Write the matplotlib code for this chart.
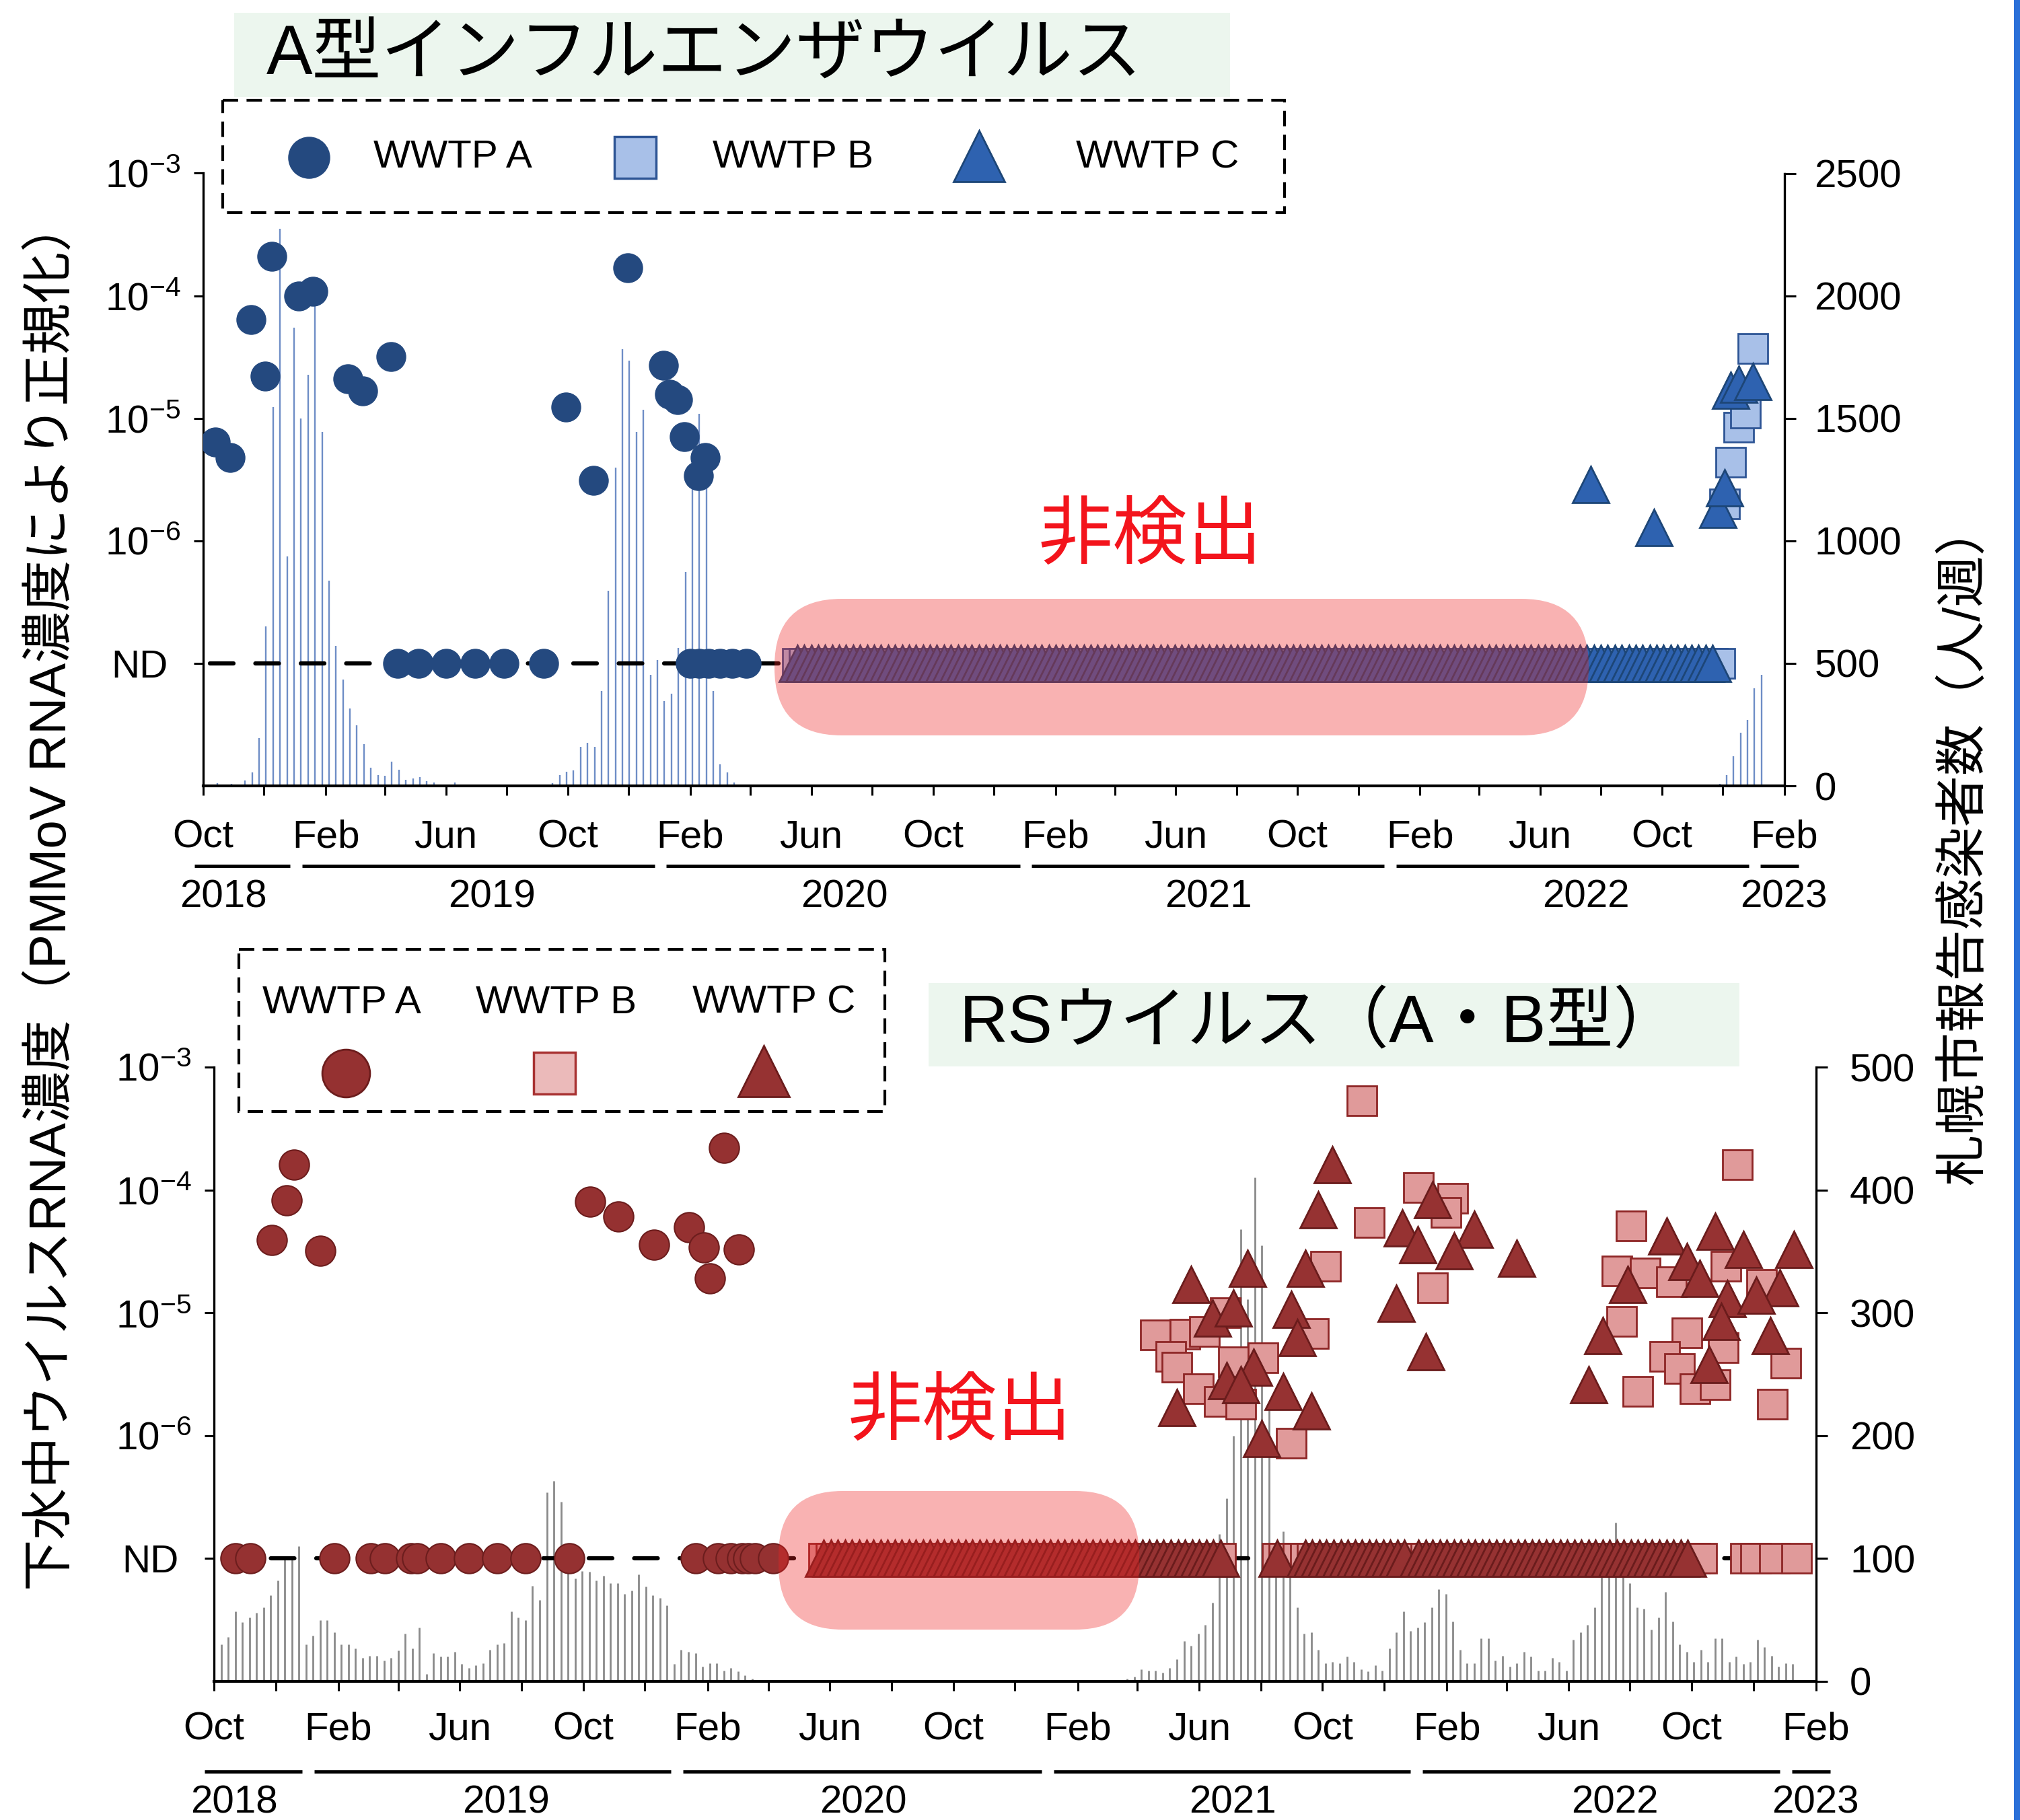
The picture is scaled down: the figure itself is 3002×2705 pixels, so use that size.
import numpy as np
import pandas as pd
import matplotlib
matplotlib.use('Agg')
import matplotlib.pyplot as plt
import matplotlib.dates as mdates
from matplotlib.patches import Rectangle, FancyBboxPatch
from matplotlib.ticker import FixedLocator, NullLocator, FixedFormatter
from matplotlib.transforms import ScaledTranslation

plt.rcParams['font.family'] = ['Liberation Sans', 'Noto Sans CJK JP', 'DejaVu Sans']
plt.rcParams['mathtext.fontset'] = 'custom'
plt.rcParams['mathtext.rm'] = 'Liberation Sans'
plt.rcParams['mathtext.it'] = 'Liberation Sans:italic'
plt.rcParams['mathtext.bf'] = 'Liberation Sans:bold'

# ---------------- DATA ----------------
# Influenza A (top panel)
TOP_A_DATES = ['2018-10-13', '2018-10-28', '2018-11-18', '2018-12-02', '2018-12-09', '2019-01-05',
               '2019-01-19', '2019-02-23', '2019-03-10', '2019-04-07', '2019-09-29', '2019-10-27',
               '2019-11-30', '2020-01-05', '2020-01-11', '2020-01-19', '2020-01-26', '2020-02-09',
               '2020-02-16']
TOP_A_VALUES = [6.4e-6, 4.8e-6, 6.4e-5, 2.2e-5, 2.1e-4, 1.0e-4, 1.09e-4, 2.1e-5, 1.67e-5, 3.2e-5,
                1.23e-5, 3.1e-6, 1.7e-4, 2.7e-5, 1.57e-5, 1.42e-5, 7.1e-6, 3.4e-6, 4.8e-6]
TOP_A_ND = ['2019-04-14', '2019-05-05', '2019-06-01', '2019-06-30', '2019-07-29', '2019-09-07',
            '2020-02-01', '2020-02-10', '2020-02-19', '2020-03-02', '2020-03-14', '2020-03-28']
TOP_B_DATES = ['2022-12-03', '2022-12-09', '2022-12-17', '2022-12-24', '2022-12-31']
TOP_B_VALUES = [2.0e-6, 4.4e-6, 8.5e-6, 1.1e-5, 3.7e-5]
TOP_C_DATES = ['2022-07-22', '2022-09-23', '2022-11-26', '2022-12-03', '2022-12-09', '2022-12-17',
               '2022-12-31']
TOP_C_VALUES = [2.9e-6, 1.28e-6, 1.8e-6, 2.7e-6, 1.7e-5, 1.9e-5, 2.0e-5]
TOP_B_ND_RANGES = [('2020-05-18', '2022-11-28')]
TOP_C_ND_RANGES = [('2020-05-18', '2022-11-21')]

# weekly reported influenza cases (right axis, top)
TOP_BAR_STARTS = ['2018-10-15', '2019-09-16', '2022-11-28']
TOP_BAR_S1 = [11, 6, 9, 6, 22, 54, 196, 652, 1546, 2273, 937, 1870, 1498, 1677, 1973, 1443, 838,
              570, 433, 315, 248, 169, 74, 43, 40, 98, 66, 24, 30, 35, 19, 14, 5, 3, 14]
TOP_BAR_S2 = [10, 44, 59, 64, 160, 175, 159, 387, 797, 1298, 1783, 1734, 1444, 1534, 452, 514,
              347, 377, 563, 872, 1223, 1519, 1225, 387, 88, 55, 14]
TOP_BAR_S3 = [8, 44, 120, 216, 268, 397, 452]

# RS virus (bottom panel)
BOT_A_DATES = ['2018-11-27', '2018-12-12', '2018-12-19', '2019-01-14', '2019-10-08', '2019-11-05',
               '2019-12-10', '2020-01-14', '2020-01-28', '2020-02-03', '2020-02-17', '2020-03-03']
BOT_A_VALUES = [3.9e-5, 8.2e-5, 1.6e-4, 3.2e-5, 8.0e-5, 6.1e-5, 3.6e-5, 5.0e-5, 3.4e-5, 1.9e-5,
                2.2e-4, 3.3e-5]
BOT_A_ND = ['2018-10-22', '2018-11-06', '2019-01-28', '2019-03-05', '2019-03-19', '2019-04-14',
            '2019-04-20', '2019-05-13', '2019-06-10', '2019-07-08', '2019-08-05', '2019-09-17',
            '2020-01-20', '2020-02-11', '2020-02-24', '2020-03-06', '2020-03-12', '2020-03-19',
            '2020-04-06']
BOT_B_DATES = ['2021-11-09', '2022-11-15', '2022-01-04', '2022-02-07', '2022-01-31', '2021-11-16',
               '2022-08-02', '2021-10-04', '2022-01-18', '2022-07-19', '2022-08-16', '2022-09-11',
               '2022-11-04', '2022-12-09', '2022-07-24', '2022-09-26', '2022-11-01', '2022-09-04',
               '2022-09-19', '2023-01-02', '2022-08-09', '2022-10-04', '2022-10-24', '2022-12-20',
               '2021-04-19', '2021-05-18', '2021-06-06', '2021-05-04', '2021-05-10', '2021-05-31',
               '2021-06-21', '2021-07-12', '2021-07-05', '2021-08-03', '2021-09-22', '2021-08-31',
               '2021-06-27']
BOT_B_VALUES = [5.3e-4, 1.6e-4, 1.05e-4, 8.5e-5, 6.6e-5, 5.4e-5, 5.1e-5, 2.4e-5, 1.6e-5, 2.2e-5,
                2.1e-5, 1.8e-5, 2.4e-5, 1.7e-5, 8.5e-6, 6.9e-6, 5.2e-6, 4.4e-6, 3.5e-6, 3.9e-6,
                2.3e-6, 2.4e-6, 2.6e-6, 1.8e-6, 6.6e-6, 6.7e-6, 7.0e-6, 4.4e-6, 3.6e-6, 2.4e-6,
                1.9e-6, 1.8e-6, 4.0e-6, 4.3e-6, 6.8e-6, 8.7e-7, 1.0e-5]
BOT_C_DATES = ['2021-10-11', '2021-09-27', '2022-01-18', '2021-12-19', '2022-01-03', '2022-02-28',
               '2022-02-08', '2022-04-11', '2021-12-13', '2022-01-11', '2022-09-06', '2022-10-24',
               '2022-11-21', '2023-01-10', '2022-09-26', '2022-10-09', '2022-07-30', '2022-12-27',
               '2022-11-05', '2022-12-04', '2022-10-30', '2022-07-05', '2022-12-18', '2022-10-18',
               '2022-06-21', '2021-05-24', '2021-07-19', '2021-09-14', '2021-06-14', '2021-07-05',
               '2021-08-31', '2021-09-06', '2021-07-25', '2021-06-28', '2021-07-12', '2021-08-23',
               '2021-05-10', '2021-09-20', '2021-08-02']
BOT_C_VALUES = [1.6e-4, 6.9e-5, 8.3e-5, 4.9e-5, 3.6e-5, 4.8e-5, 3.2e-5, 2.8e-5, 1.2e-5, 4.8e-6,
                4.2e-5, 4.6e-5, 3.3e-5, 3.3e-5, 2.6e-5, 1.9e-5, 1.7e-5, 1.6e-5, 1.3e-5, 1.4e-5,
                8.5e-6, 6.5e-6, 6.5e-6, 3.8e-6, 2.6e-6, 1.7e-5, 2.3e-5, 2.3e-5, 9.1e-6, 1.1e-5,
                1.07e-5, 6.3e-6, 3.6e-6, 2.8e-6, 2.6e-6, 2.3e-6, 1.7e-6, 1.6e-6, 9.5e-7]
BOT_B_ND_RANGES = [('2020-05-26', '2021-06-22'), ('2021-08-17', '2021-12-21'),
                   ('2022-01-04', '2022-10-11')]
BOT_B_ND_EXTRA = ['2022-11-23', '2022-12-03', '2022-12-22', '2023-01-13']
BOT_C_ND_RANGES = [('2020-05-26', '2021-06-22'), ('2021-08-17', '2021-08-17'),
                   ('2021-09-14', '2021-12-21'), ('2022-01-04', '2022-09-27')]

# weekly reported RSV cases (right axis, bottom)
BOT_BAR_STARTS = ['2018-10-08', '2021-03-22']
BOT_BAR_S1 = [30, 36, 57, 48, 52, 56, 60, 70, 82, 100, 99, 110, 30, 37, 50, 50, 40, 30, 30, 27,
              19, 21, 21, 17, 19, 25, 39, 27, 44, 6, 23, 20, 20, 24, 14, 11, 13, 15, 26, 30,
              31, 57, 52, 50, 78, 66, 154, 163, 146, 90, 84, 90, 89, 82, 86, 80, 80, 71, 74, 87,
              77, 70, 68, 62, 14, 26, 24, 23, 12, 15, 15, 9, 11, 8, 5, 2]
BOT_BAR_S2 = [2, 4, 10,
              9, 9, 7, 11, 18, 33, 29, 39, 46, 64, 120, 149, 200, 368, 311, 410, 355, 221, 100, 122,
              95, 60, 39, 40, 26, 15, 16, 15, 20, 16, 10, 8, 13, 9, 27, 40, 57, 41, 44, 48,
              60, 75, 71, 49, 26, 15, 15, 35, 35, 17, 21, 12, 15, 24, 20, 9, 9, 19, 16, 9,
              34, 40, 46, 60, 90, 105, 129, 100, 80, 60, 59, 42, 52, 73, 49, 30, 24, 16, 26, 16,
              35, 35, 16, 20, 14, 16, 34, 28, 21, 12, 15, 14]

LEFT_TICKS = [1e-3, 1e-4, 1e-5, 1e-6, 1e-7]
LEFT_TICK_LABELS = [r'$\mathregular{10^{-3}}$', r'$\mathregular{10^{-4}}$', r'$\mathregular{10^{-5}}$',
                    r'$\mathregular{10^{-6}}$', 'ND']
YEARS = [2018, 2019, 2020, 2021, 2022, 2023]
YEAR_LABEL_DATES = ['2018-10-21', '2019-07-17', '2020-07-04', '2021-07-04', '2022-07-17', '2023-01-31']

# ---------------- STYLE / LAYOUT ----------------
W, H = 3002, 2705
DPI = 100
ND_LEVEL = 1e-7
XMIN, XMAX = pd.Timestamp('2018-10-01'), pd.Timestamp('2023-02-01')
FS = 42

fig = plt.figure(figsize=(W / DPI, H / DPI), dpi=DPI)


def rect_px(left, top, right, bottom):
    return [left / W, 1 - bottom / H, (right - left) / W, (bottom - top) / H]


def weekly(start, n):
    return pd.date_range(start, periods=n, freq='7D')


def nd_dates(ranges, extra=()):
    parts = [pd.date_range(a, b, freq='7D') for a, b in ranges]
    out = parts[0]
    for p in parts[1:]:
        out = out.append(p)
    if extra:
        out = out.append(pd.to_datetime(list(extra)))
    return out


def make_panel(rect, bar_max, bar_step, xpad, rpad, year_line_y, year_lab_y):
    ax = fig.add_axes(rect)
    ax.set_yscale('log')
    ax.set_ylim(1e-8, 1e-3)
    ax.set_xlim(XMIN, XMAX)
    ax2 = ax.twinx()
    ax2.set_ylim(0, bar_max)
    ax.set_zorder(2)
    ax2.set_zorder(1)
    ax.patch.set_visible(False)
    ax2.patch.set_visible(False)

    for s in ['top', 'right']:
        ax.spines[s].set_visible(False)
    for s in ['top', 'left', 'bottom']:
        ax2.spines[s].set_visible(False)
    ax.spines['left'].set_linewidth(2.4)
    ax.spines['bottom'].set_linewidth(3.0)
    ax2.spines['right'].set_linewidth(2.4)

    ax.yaxis.set_major_locator(FixedLocator(LEFT_TICKS))
    ax.yaxis.set_major_formatter(FixedFormatter(LEFT_TICK_LABELS))
    ax.yaxis.set_minor_locator(NullLocator())
    ax.tick_params(axis='y', which='major', length=10, width=2.2, labelsize=FS, pad=14,
                   direction='out')

    ax.xaxis.set_major_locator(mdates.MonthLocator(bymonth=[2, 6, 10]))
    ax.xaxis.set_major_formatter(mdates.DateFormatter('%b'))
    ax.xaxis.set_minor_locator(mdates.MonthLocator(bymonth=[4, 8, 12]))
    ax.tick_params(axis='x', which='both', length=10, width=2.2, direction='out')
    ax.tick_params(axis='x', which='major', labelsize=FS, pad=xpad)

    ax2.set_yticks(list(range(0, bar_max + 1, bar_step)))
    ax2.tick_params(axis='y', length=12, width=2.2, labelsize=FS, pad=rpad, direction='out')

    tr = ax.get_xaxis_transform()
    for yr in YEARS:
        a = max(pd.Timestamp(f'{yr}-01-08'), pd.Timestamp('2018-09-22'))
        b = min(pd.Timestamp(f'{yr}-12-27'), pd.Timestamp('2023-02-15'))
        ax.plot([a, b], [year_line_y, year_line_y], transform=tr, color='black', lw=3.5,
                clip_on=False, solid_capstyle='butt')
    for yr, d in zip(YEARS, YEAR_LABEL_DATES):
        ax.text(pd.Timestamp(d), year_lab_y, str(yr), transform=tr, ha='center', va='center',
                fontsize=FS)
    return ax, ax2


def shift_nd_label(ax):
    fig.canvas.draw()
    for lab in ax.get_yticklabels():
        if lab.get_text() == 'ND':
            lab.set_transform(lab.get_transform() + ScaledTranslation(-14 / 72, 0, fig.dpi_scale_trans))


def draw_bars(ax2, starts, seasons, color, lw):
    for st, vals in zip(starts, seasons):
        ax2.vlines(weekly(st, len(vals)), 0, vals, colors=color, lw=lw)


# ---- top panel ----
axT, axT2 = make_panel(rect_px(302, 257.5, 2652, 1168), 2500, 500, 26, 20, -0.1307, -0.182)
draw_bars(axT2, TOP_BAR_STARTS, [TOP_BAR_S1, TOP_BAR_S2, TOP_BAR_S3], '#6e8dc6', 1.7)
axT.plot([pd.Timestamp('2018-10-08'), pd.Timestamp('2022-12-31')], [ND_LEVEL, ND_LEVEL],
         color='black', lw=4.5, ls=(0, (5.6, 5.2)), dash_capstyle='round', zorder=1.5)

A_TOP = dict(marker='o', ms=31, mfc='#24497f', mec='#24497f', mew=1, ls='none')
B_TOP = dict(marker='s', ms=32, mfc='#a8c0e8', mec='#2e5595', mew=2, ls='none')
C_TOP = dict(marker='^', ms=39, mfc='#2e62b0', mec='#1d4677', mew=2, ls='none')

axT.plot(pd.to_datetime(TOP_A_ND), [ND_LEVEL] * len(TOP_A_ND), zorder=3, **A_TOP)
axT.plot(pd.to_datetime(TOP_A_DATES), TOP_A_VALUES, zorder=3, **A_TOP)
ndB = nd_dates(TOP_B_ND_RANGES)
axT.plot(ndB, [ND_LEVEL] * len(ndB), zorder=4, **B_TOP)
axT.plot(pd.to_datetime(TOP_B_DATES), TOP_B_VALUES, zorder=4, **B_TOP)
ndC = nd_dates(TOP_C_ND_RANGES)
axT.plot(ndC, [ND_LEVEL] * len(ndC), zorder=5, **C_TOP)
axT.plot(pd.to_datetime(TOP_C_DATES), TOP_C_VALUES, zorder=5, **C_TOP)

# ---- bottom panel ----
axB, axB2 = make_panel(rect_px(318, 1586, 2699, 2499), 500, 100, 22, 24, -0.1468, -0.198)
draw_bars(axB2, BOT_BAR_STARTS, [BOT_BAR_S1, BOT_BAR_S2], '#8a8a8a', 2.0)
axB.plot([pd.Timestamp('2018-10-12'), pd.Timestamp('2023-01-13')], [ND_LEVEL, ND_LEVEL],
         color='black', lw=4.5, ls=(0, (5.6, 5.2)), dash_capstyle='round', zorder=1.5)

A_BOT = dict(marker='o', ms=32, mfc='#953131', mec='#6c1d1d', mew=1.5, ls='none')
B_BOT = dict(marker='s', ms=32, mfc='#e09a9a', mec='#8e2626', mew=2, ls='none')
C_BOT = dict(marker='^', ms=39, mfc='#963232', mec='#6a1c1c', mew=2, ls='none')

axB.plot(pd.to_datetime(BOT_A_ND), [ND_LEVEL] * len(BOT_A_ND), zorder=3, **A_BOT)
axB.plot(pd.to_datetime(BOT_A_DATES), BOT_A_VALUES, zorder=3, **A_BOT)
ndB2 = nd_dates(BOT_B_ND_RANGES, BOT_B_ND_EXTRA)
axB.plot(ndB2, [ND_LEVEL] * len(ndB2), zorder=4, **B_BOT)
axB.plot(pd.to_datetime(BOT_B_DATES), BOT_B_VALUES, zorder=4, **B_BOT)
ndC2 = nd_dates(BOT_C_ND_RANGES)
axB.plot(ndC2, [ND_LEVEL] * len(ndC2), zorder=5, **C_BOT)
axB.plot(pd.to_datetime(BOT_C_DATES), BOT_C_VALUES, zorder=5, **C_BOT)

# ---- overlay (pixel coordinates) ----
ov = fig.add_axes([0, 0, 1, 1], zorder=10)
ov.set_xlim(0, W)
ov.set_ylim(H, 0)
ov.axis('off')
JP = ['Liberation Sans', 'Noto Sans CJK JP']

# titles
ov.add_patch(Rectangle((348, 19), 1480, 125, facecolor='#ecf6ee', edgecolor='none'))
ov.text(396, 84, 'A型インフルエンザウイルス', fontsize=74, ha='left', va='center', family=JP)
ov.add_patch(Rectangle((1380, 1461), 1205, 124, facecolor='#ecf6ee', edgecolor='none'))
ov.text(1426, 1523, 'RSウイルス（A・B型）', fontsize=72, ha='left', va='center', family=JP)

# legends
ov.add_patch(Rectangle((331, 149), 1578, 167, fill=False, edgecolor='black', lw=3.0,
                       ls=(0, (5.5, 3.0))))
ov.plot([459], [234], marker='o', ms=44, mfc='#24497f', mec='#24497f', ls='none')
ov.plot([944], [234], marker='s', ms=45, mfc='#a8c0e8', mec='#2e5595', mew=2.5, ls='none')
ov.plot([1455], [232], marker='^', ms=55, mfc='#2e62b0', mec='#1d4677', mew=2, ls='none')
for x, t in [(555, 'WWTP A'), (1059, 'WWTP B'), (1599, 'WWTP C')]:
    ov.text(x, 234, t, fontsize=FS, ha='left', va='center')

ov.add_patch(Rectangle((355, 1411), 960, 241, fill=False, edgecolor='black', lw=3.0,
                       ls=(0, (5.5, 3.0))))
for x, t in [(508, 'WWTP A'), (827, 'WWTP B'), (1150, 'WWTP C')]:
    ov.text(x, 1491, t, fontsize=FS, ha='center', va='center')
ov.plot([514], [1595], marker='o', ms=51, mfc='#953131', mec='#6c1d1d', mew=2, ls='none')
ov.plot([824], [1595], marker='s', ms=44, mfc='#ebbaba', mec='#a83232', mew=2.5, ls='none')
ov.plot([1135], [1592], marker='^', ms=55, mfc='#963232', mec='#6a1c1c', mew=2, ls='none')

# not-detected highlight
ov.add_patch(FancyBboxPatch((1151, 890), 1210, 203, boxstyle='round,pad=0,rounding_size=100',
                            facecolor='#ee2323', alpha=0.35, edgecolor='none'))
ov.add_patch(FancyBboxPatch((1157, 2216), 536, 206, boxstyle='round,pad=0,rounding_size=95',
                            facecolor='#ee2323', alpha=0.35, edgecolor='none'))
ov.text(1709, 800, '非検出', fontsize=80, color='#f3141c', ha='center', va='center', family=JP)
ov.text(1426, 2102, '非検出', fontsize=80, color='#f3141c', ha='center', va='center', family=JP)

# axis titles
ov.text(77, 1331, '下水中ウイルスRNA濃度（PMMoV RNA濃度により正規化）', rotation=90,
        fontsize=55, ha='center', va='center', family=JP)
ov.text(2920, 1254, '札幌市報告感染者数（人/週）', rotation=90,
        fontsize=55, ha='center', va='center', family=JP)

# right border line
ov.add_patch(Rectangle((2993, 0), 9, H, facecolor='#2a6fd8', edgecolor='none'))

shift_nd_label(axT)
shift_nd_label(axB)

fig.savefig('out.png', dpi=DPI)
